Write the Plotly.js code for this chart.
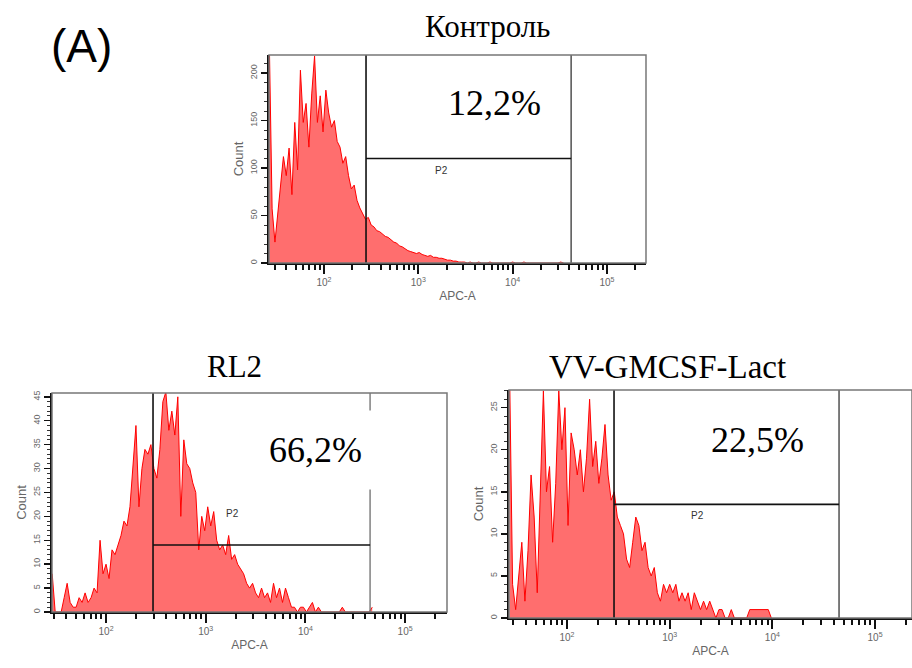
<!DOCTYPE html>
<html><head><meta charset="utf-8">
<script src="https://cdn.plot.ly/plotly-3.0.1.min.js"></script>
<style>html,body{margin:0;padding:0;background:#fff}</style>
</head><body><div id="chart" style="width:912px;height:668px"></div>
<script>
// ---------- data ----------
const panelTitles = ['Контроль', 'RL2', 'VV-GMCSF-Lact'];
const percentLabels = ['12,2%', '66,2%', '22,5%'];
const gateName = 'P2';
const xAxisTitle = 'APC-A';
const yAxisTitle = 'Count';
const xTickVals = [100, 1000, 10000, 100000];
const xTickText = ['10<sup>2</sup>', '10<sup>3</sup>', '10<sup>4</sup>', '10<sup>5</sup>'];
// histogram channels (log10 of APC-A), evenly spaced instrument channels
const binStartLog = [1.42, 1.46, 1.44];
const binStepLog = 0.03;
const countsControl = [
 235, 57, 22, 52, 84, 112, 92, 121, 72, 148,
 98, 203, 148, 168, 122, 178, 218, 148, 176, 138,
 182, 158, 143, 150, 128, 122, 105, 112, 92, 78,
 82, 66, 58, 52, 46, 48, 40, 38, 34, 33,
 30, 28, 27, 24, 22, 21, 18, 17, 15, 13,
 12, 11, 10, 11, 9, 8, 7, 8, 6, 6,
 5, 5, 4, 3, 3, 2, 2, 1, 1, 1,
 0, 1, 0, 0, 1, 0, 0, 0, 1, 0,
 0, 0, 0, 0, 0, 0, 1, 0, 0, 0,
 1, 0, 0, 0, 0, 0, 0, 0, 0, 0,
 0, 0, 0, 1, 0
];
const countsRL2 = [
 8, 0, 0, 0, 3, 6, 2, 1, 1, 3,
 2, 4, 2, 3, 5, 4, 15, 8, 10, 7,
 13, 12, 14, 16, 19, 18, 22, 31, 39, 22,
 30, 34, 33, 35, 30, 28, 34, 44, 46, 38,
 42, 37, 45, 20, 36, 31, 30, 27, 25, 13,
 20, 17, 22, 18, 21, 15, 13, 14, 12, 16,
 11, 12, 10, 9, 8, 6, 5, 6, 4, 3,
 5, 3, 4, 2, 6, 3, 5, 2, 5, 3,
 1, 1, 0, 1, 1, 0, 1, 2, 0, 1,
 0, 0, 0, 0, 0, 0, 0, 1, 0, 0,
 0, 0, 0, 0, 0, 0, 0, 1
];
const countsVV = [
 30, 4, 1, 5, 9, 2, 8, 17, 12, 3,
 14, 27, 15, 18, 9, 16, 27, 20, 25, 11,
 22, 20, 17, 20, 15, 19, 26, 18, 21, 16,
 19, 23, 17, 14, 15, 12, 11, 10, 7, 6,
 9, 12, 11, 8, 9, 6, 5, 6, 3, 2,
 4, 3, 4, 3, 4, 2, 3, 2, 3, 1,
 3, 2, 1, 2, 1, 2, 1, 0, 1, 1,
 0, 0, 1, 0, 0, 0, 0, 0, 1, 1,
 1, 1, 1, 1, 1, 0
];
// P2 gate bounds (APC-A) and gate marker level (Count)
const gateLow = [279, 296, 287];
const gateHigh = [41700, 44500, 44600];
const gateLevel = [110, 14, 13.5];

// ---------- layout / styling ----------
const counts = [countsControl, countsRL2, countsVV];
const xDomains = [[0.29496, 0.70833], [0.05702, 0.49013], [0.55811, 1.0]];
const yDomains = [[0.60629, 0.91766], [0.08383, 0.41168], [0.07485, 0.41617]];
const xRanges = [[1.417, 5.414], [1.458, 5.42], [1.435, 5.36]];
const yRanges = [[0, 219], [0, 45.8], [0, 27.1]];
const yDticks = [50, 5, 5];
const yMinor = [10, 1, 1];

const sans = 'Liberation Sans, Arial, sans-serif';
const serif = 'Liberation Serif, Times New Roman, serif';

const minorX = [];
for (let e = 1; e <= 5; e++) for (let d = 2; d <= 9; d++) minorX.push(d * Math.pow(10, e));

const traces = [];
const layout = {
  width: 912, height: 668,
  margin: {l: 0, r: 0, t: 0, b: 0},
  paper_bgcolor: '#fff', plot_bgcolor: '#fff',
  showlegend: false,
  shapes: [], annotations: []
};

for (let p = 0; p < 3; p++) {
  const sx = p === 0 ? '' : String(p + 1);
  const xa = 'x' + sx, ya = 'y' + sx;
  const xs = counts[p].map((_, i) => Math.pow(10, binStartLog[p] + i * binStepLog));
  traces.push({
    type: 'scatter', mode: 'lines', x: xs, y: counts[p],
    xaxis: xa, yaxis: ya, fill: 'tozeroy',
    fillcolor: 'rgba(255,98,98,0.92)',
    line: {color: '#ff0000', width: 1},
    hoverinfo: 'skip'
  });
  const top = yRanges[p][1];
  // gate lines
  traces.push({type: 'scatter', mode: 'lines', x: [gateLow[p], gateLow[p]], y: [0, top],
    xaxis: xa, yaxis: ya, line: {color: '#111', width: 1.6}, hoverinfo: 'skip'});
  traces.push({type: 'scatter', mode: 'lines', x: [gateHigh[p], gateHigh[p]], y: [0, top],
    xaxis: xa, yaxis: ya, line: {color: p === 1 ? '#777' : '#444', width: 1.4}, hoverinfo: 'skip'});
  traces.push({type: 'scatter', mode: 'lines', x: [gateLow[p], gateHigh[p]], y: [gateLevel[p], gateLevel[p]],
    xaxis: xa, yaxis: ya, line: {color: '#111', width: 1.6}, hoverinfo: 'skip'});

  layout['xaxis' + sx] = {
    type: 'log', domain: xDomains[p], range: xRanges[p], anchor: ya,
    showgrid: false, zeroline: false, showline: true, linecolor: '#111', linewidth: 2,
    ticks: 'outside', ticklen: 9, tickwidth: 2, tickcolor: '#111',
    tickvals: xTickVals, ticktext: xTickText,
    tickfont: {family: sans, size: 10, color: '#666'},
    minor: {tickvals: minorX, ticks: 'outside', ticklen: 5, tickwidth: 2, tickcolor: '#111', showgrid: false},
    title: {text: xAxisTitle, font: {family: sans, size: 12, color: '#666'}, standoff: 5},
    fixedrange: true
  };
  layout['yaxis' + sx] = {
    domain: yDomains[p], range: yRanges[p], anchor: xa,
    showgrid: false, zeroline: false, showline: true, linecolor: '#111', linewidth: 2,
    ticks: 'outside', ticklen: 6, tickwidth: 1.5, tickcolor: '#111',
    dtick: yDticks[p], tick0: 0, tickangle: -90,
    tickfont: {family: sans, size: 9, color: '#666'},
    minor: {dtick: yMinor[p], ticks: 'outside', ticklen: 3, tickwidth: 1, tickcolor: '#333', showgrid: false},
    title: {text: yAxisTitle, font: {family: sans, size: 13, color: '#666'}, standoff: 3},
    fixedrange: true
  };
  // frame
  layout.shapes.push({type: 'rect', xref: xa + ' domain', yref: ya + ' domain',
    x0: 0, x1: 1, y0: 0, y1: 1, line: {color: '#777', width: 1.5}, layer: 'above'});
}

const titlePos = [[0.535, 0.9596], [0.2566, 0.4506], [0.7314, 0.4506]];
const titleSize = [31, 31, 33];
const pctPos = [[0.5417, 0.8458], [0.3454, 0.3263], [0.8311, 0.3413]];
const p2Pos = [[0.4836, 0.7455], [0.2544, 0.2320], [0.7643, 0.2290]];
for (let p = 0; p < 3; p++) {
  layout.annotations.push({text: panelTitles[p], xref: 'paper', yref: 'paper',
    x: titlePos[p][0], y: titlePos[p][1], xanchor: 'center', yanchor: 'middle', showarrow: false,
    font: {family: serif, size: titleSize[p], color: '#000'}});
  const pa = {text: percentLabels[p], xref: 'paper', yref: 'paper',
    x: pctPos[p][0], y: pctPos[p][1], xanchor: 'center', yanchor: 'middle', showarrow: false,
    font: {family: serif, size: 36, color: '#000'}};
  if (p === 1) { pa.bgcolor = '#fff'; pa.borderpad = 19; }
  layout.annotations.push(pa);
  layout.annotations.push({text: gateName, xref: 'paper', yref: 'paper',
    x: p2Pos[p][0], y: p2Pos[p][1], xanchor: 'center', yanchor: 'middle', showarrow: false,
    font: {family: sans, size: 10, color: '#333'}});
}
layout.annotations.push({text: '(A)', xref: 'paper', yref: 'paper', x: 0.0899, y: 0.9311,
  xanchor: 'center', yanchor: 'middle', showarrow: false,
  font: {family: sans, size: 46, color: '#000'}});

Plotly.newPlot('chart', traces, layout, {staticPlot: true, displayModeBar: false});
</script>
</body></html>
